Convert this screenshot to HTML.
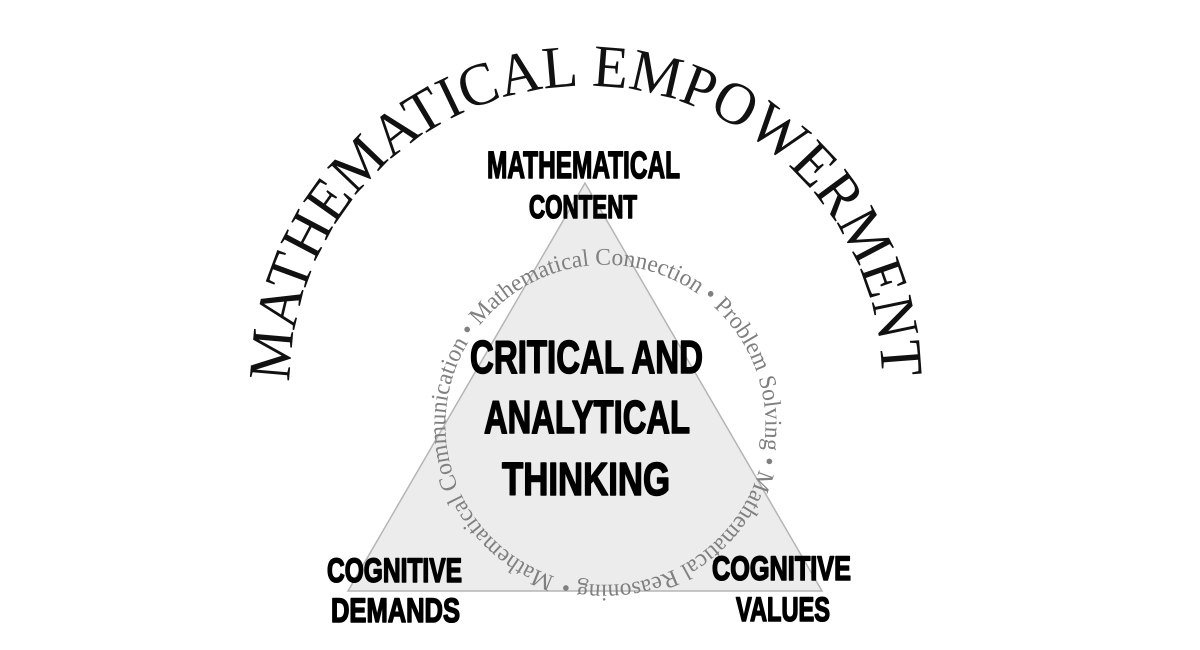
<!DOCTYPE html>
<html><head><meta charset="utf-8"><style>
html,body{margin:0;padding:0;background:#fff;overflow:hidden;width:1200px;height:650px;}
svg{display:block}
.b{font-family:"Liberation Sans Narrow","Liberation Sans",sans-serif;font-weight:bold;fill:#000;stroke:#000;stroke-width:1.6;stroke-linejoin:round;}
</style></head><body>
<svg width="1200" height="650" viewBox="0 0 1200 650" xmlns="http://www.w3.org/2000/svg">
<defs>
<path id="arc" d="M 290 382 A 296 296 0 0 1 882 382"/>
<path id="circ" d="M 554.7 576.5 A 160 160 0 1 1 555.0 576.6"/>
<clipPath id="cl"><rect x="0" y="0" width="1200" height="650"/></clipPath>
</defs>
<polygon points="585,183 348,591 822,591" fill="#ececec" stroke="#b5b5b5" stroke-width="1.5"/>
<text font-family="Liberation Serif,serif" font-size="60" fill="#111" textLength="925" lengthAdjust="spacingAndGlyphs"><textPath href="#arc" startOffset="0">MATHEMATICAL EMPOWERMENT</textPath></text>
<text font-family="Liberation Serif,serif" font-size="24" fill="#808080" textLength="995" lengthAdjust="spacingAndGlyphs"><textPath href="#circ">Mathematical Communication • Mathematical Connection • Problem Solving • Mathematical Reasoning •</textPath></text>
<text class="b" x="487" y="178" font-size="38" textLength="193" lengthAdjust="spacingAndGlyphs">MATHEMATICAL</text>
<text class="b" x="529" y="218" font-size="32" textLength="108" lengthAdjust="spacingAndGlyphs">CONTENT</text>
<text class="b" x="470" y="373" font-size="46" textLength="233" lengthAdjust="spacingAndGlyphs">CRITICAL AND</text>
<text class="b" x="484" y="433" font-size="46" textLength="206" lengthAdjust="spacingAndGlyphs">ANALYTICAL</text>
<text class="b" x="502" y="495" font-size="46" textLength="168" lengthAdjust="spacingAndGlyphs">THINKING</text>
<text class="b" x="327" y="582" font-size="34" textLength="135" lengthAdjust="spacingAndGlyphs">COGNITIVE</text>
<text class="b" x="331" y="622" font-size="34" textLength="129" lengthAdjust="spacingAndGlyphs">DEMANDS</text>
<text class="b" x="712" y="580" font-size="34" textLength="139" lengthAdjust="spacingAndGlyphs">COGNITIVE</text>
<text class="b" x="736" y="621" font-size="34" textLength="94" lengthAdjust="spacingAndGlyphs">VALUES</text>
<g clip-path="url(#cl)"><text font-family="Liberation Serif,serif" font-size="40" fill="#333" x="52" y="678" textLength="1140" lengthAdjust="spacing">Cultural values to connect and Mathematical Empowerment Standard</text></g>
</svg>
</body></html>
